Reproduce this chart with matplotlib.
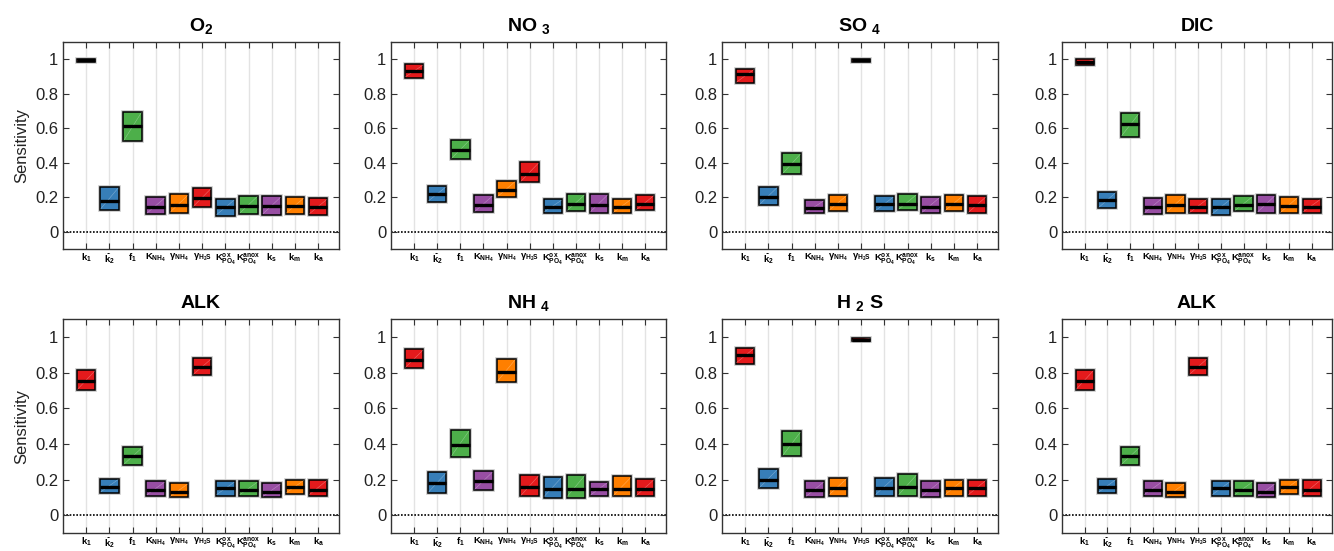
import matplotlib
matplotlib.use('Agg')
import matplotlib.pyplot as plt
from matplotlib.patches import Rectangle

plt.rcParams['font.family'] = ['Liberation Sans', 'DejaVu Sans']
plt.rcParams['mathtext.fontset'] = 'custom'
plt.rcParams['mathtext.rm'] = 'Liberation Sans'
plt.rcParams['mathtext.it'] = 'Liberation Sans:italic'
plt.rcParams['mathtext.bf'] = 'Liberation Sans:bold'

params = [r'$\mathbf{k_1}$', r'$\widetilde{\mathbf{k}}_\mathbf{2}$', r'$\mathbf{f_1}$',
          r'$\mathbf{K_{NH_4}}$', r'γ$_\mathbf{NH_4}$', r'γ$_\mathbf{H_2S}$',
          r'$\mathbf{K^{ox}_{PO_4}}$', r'$\mathbf{K^{anox}_{PO_4}}$',
          r'$\mathbf{k_s}$', r'$\mathbf{k_m}$', r'$\mathbf{k_a}$']
box_colors = ['#e41a1c', '#377eb8', '#4daf4a', '#984ea3', '#ff7f00', '#e41a1c',
              '#377eb8', '#4daf4a', '#984ea3', '#ff7f00', '#e41a1c']

# (q25, median, q75) per parameter
o2 = [(0.985, 0.993, 1.0), (0.127, 0.181, 0.259), (0.524, 0.614, 0.696), (0.103, 0.142, 0.20),
      (0.109, 0.154, 0.216), (0.142, 0.195, 0.255), (0.094, 0.142, 0.189), (0.103, 0.148, 0.21),
      (0.099, 0.148, 0.205), (0.103, 0.148, 0.20), (0.099, 0.142, 0.193)]
no3 = [(0.893, 0.932, 0.971), (0.174, 0.219, 0.265), (0.42, 0.473, 0.533), (0.112, 0.157, 0.211),
       (0.20, 0.242, 0.297), (0.287, 0.333, 0.403), (0.11, 0.143, 0.188), (0.118, 0.159, 0.219),
       (0.11, 0.157, 0.219), (0.107, 0.143, 0.192), (0.124, 0.159, 0.215)]
so4 = [(0.862, 0.913, 0.946), (0.153, 0.203, 0.262), (0.333, 0.393, 0.455), (0.107, 0.14, 0.184),
       (0.12, 0.161, 0.215), (0.985, 0.993, 1.0), (0.118, 0.161, 0.205), (0.126, 0.161, 0.219),
       (0.107, 0.143, 0.203), (0.118, 0.161, 0.213), (0.107, 0.153, 0.207)]
dic = [(0.966, 0.985, 1.0), (0.136, 0.185, 0.233), (0.55, 0.625, 0.688), (0.103, 0.142, 0.196),
       (0.11, 0.153, 0.211), (0.106, 0.142, 0.192), (0.099, 0.142, 0.188), (0.118, 0.157, 0.207),
       (0.11, 0.16, 0.213), (0.106, 0.149, 0.203), (0.11, 0.146, 0.192)]
alk = [(0.70, 0.75, 0.815), (0.125, 0.16, 0.205), (0.28, 0.33, 0.38), (0.11, 0.14, 0.19),
       (0.10, 0.13, 0.18), (0.785, 0.83, 0.88), (0.11, 0.15, 0.19), (0.11, 0.14, 0.19),
       (0.10, 0.13, 0.18), (0.12, 0.16, 0.20), (0.11, 0.14, 0.20)]
nh4 = [(0.823, 0.868, 0.93), (0.124, 0.183, 0.241), (0.328, 0.392, 0.478), (0.14, 0.192, 0.245),
       (0.748, 0.804, 0.878), (0.105, 0.157, 0.225), (0.099, 0.148, 0.216), (0.099, 0.148, 0.227),
       (0.107, 0.144, 0.188), (0.105, 0.148, 0.217), (0.105, 0.148, 0.204)]
h2s = [(0.85, 0.90, 0.94), (0.15, 0.20, 0.26), (0.33, 0.40, 0.47), (0.10, 0.14, 0.19),
       (0.11, 0.15, 0.21), (0.975, 0.985, 0.995), (0.11, 0.15, 0.21), (0.11, 0.16, 0.23),
       (0.10, 0.14, 0.19), (0.11, 0.15, 0.20), (0.11, 0.15, 0.20)]

panels = [('O$_\\mathbf{2}$', o2), ('NO $_\\mathbf{3}$', no3), ('SO $_\\mathbf{4}$', so4), ('DIC', dic),
          ('ALK', alk), ('NH $_\\mathbf{4}$', nh4), ('H $_\\mathbf{2}$ S', h2s), ('ALK', alk)]

W, H = 1334, 551
fig = plt.figure(figsize=(W / 100, H / 100), dpi=100)

cols = [(63, 339), (391, 666), (722, 998), (1062, 1332)]
rows = [(42, 249), (319, 533)]

for i, (title, data) in enumerate(panels):
    x0, x1 = cols[i % 4]
    top, bot = rows[i // 4]
    ax = fig.add_axes([x0 / W, 1 - bot / H, (x1 - x0) / W, (bot - top) / H])
    pos = list(range(1, len(params) + 1))
    for p in pos:
        ax.axvline(p, color='#e3e3e3', lw=1, zorder=0)
    ax.axhline(0, color='black', lw=1.2, ls=(0, (1, 1)), zorder=1)
    for p, (q1, med, q3), c in zip(pos, data, box_colors):
        ax.add_patch(Rectangle((p - 0.4, q1), 0.8, q3 - q1, facecolor='none',
                               edgecolor='#c8c8c8', lw=2.6, zorder=2))
        ax.add_patch(Rectangle((p - 0.4, q1), 0.8, q3 - q1, facecolor=c,
                               edgecolor='black', lw=1.1, zorder=3))
        ax.plot([p - 0.38, p + 0.38], [q1 + 0.005, q3 - 0.005], color='white', lw=0.4,
                alpha=0.35, zorder=4)
        ax.plot([p - 0.4, p + 0.4], [med, med], color='black', lw=2.4, zorder=5,
                solid_capstyle='butt')
    ax.set_xlim(0, 11.9)
    ax.set_ylim(-0.1, 1.1)
    ax.set_xticks(pos)
    ax.set_xticklabels(params, fontsize=6.8, fontweight='bold')
    ax.set_yticks([0, 0.2, 0.4, 0.6, 0.8, 1])
    ax.set_yticklabels(['0', '0.2', '0.4', '0.6', '0.8', '1'])
    ax.tick_params(axis='y', labelsize=12, direction='in', length=4, right=True,
                   color='#333333', labelcolor='#222222')
    ax.tick_params(axis='x', direction='in', length=4, top=True, color='#333333', pad=2)
    for s in ax.spines.values():
        s.set_color('#333333')
        s.set_linewidth(1)
    ax.set_title(title, fontsize=14, fontweight='bold', pad=8)
    if i % 4 == 0:
        ax.set_ylabel('Sensitivity', fontsize=12, color='#222222')

fig.savefig('out.png', dpi=100)
